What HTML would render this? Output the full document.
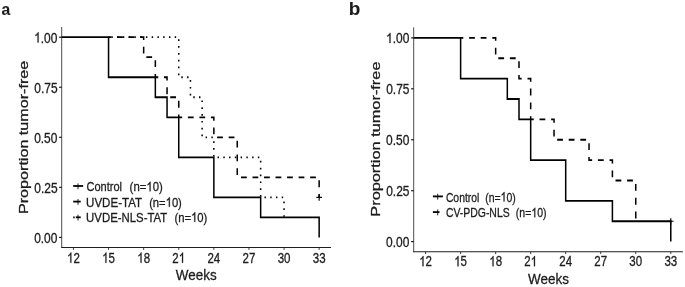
<!DOCTYPE html>
<html><head><meta charset="utf-8"><title>Survival curves</title><style>
html,body{margin:0;padding:0;background:#fff;}
body{width:685px;height:287px;overflow:hidden;font-family:"Liberation Sans",sans-serif;}
svg{display:block}
text{font-family:"Liberation Sans",sans-serif;stroke:#1c1c1c;stroke-width:0.3px;}
</style></head><body>
<div id="fig" style="will-change:transform;width:685px;height:287px;background:#fff">
<svg width="685" height="287" viewBox="0 0 685 287">
<rect width="685" height="287" fill="#fff"/>
<text style="stroke-width:0.1px" transform="translate(1.59,14.70) scale(0.9223,1)" font-size="17" font-weight="bold" text-anchor="start" fill="#1c1c1c">a</text>
<text style="stroke-width:0.1px" transform="translate(348.83,14.50) scale(1.0739,1)" font-size="17.6" font-weight="bold" text-anchor="start" fill="#1c1c1c">b</text>
<path d="M61.7,27.0 V248.0" stroke="#1e1e1e" stroke-width="0.8"/>
<path d="M61.300000000000004,247.5 H331" stroke="#1e1e1e" stroke-width="1.1"/>
<path d="M59.1,237.40 H61.7" stroke="#111" stroke-width="1.15"/>
<text transform="translate(34.14,242.70) scale(0.8430,1)" font-size="14.2" text-anchor="start" fill="#1c1c1c">0.00</text>
<path d="M59.1,187.35 H61.7" stroke="#111" stroke-width="1.15"/>
<text transform="translate(34.26,192.65) scale(0.8430,1)" font-size="14.2" text-anchor="start" fill="#1c1c1c">0.25</text>
<path d="M59.1,137.30 H61.7" stroke="#111" stroke-width="1.15"/>
<text transform="translate(34.14,142.60) scale(0.8430,1)" font-size="14.2" text-anchor="start" fill="#1c1c1c">0.50</text>
<path d="M59.1,87.25 H61.7" stroke="#111" stroke-width="1.15"/>
<text transform="translate(34.26,92.55) scale(0.8430,1)" font-size="14.2" text-anchor="start" fill="#1c1c1c">0.75</text>
<path d="M59.1,37.20 H61.7" stroke="#111" stroke-width="1.15"/>
<g transform="translate(34.14,42.50) scale(0.8430,1)"><path transform="translate(0.00,0) scale(0.006934,-0.006934)" d="M763 0L583 0L583 1147Q518 1085 412.5 1023Q307 961 223 930L223 1104Q374 1175 487 1276Q600 1377 647 1472L763 1472Z" fill="#1c1c1c" stroke="#1c1c1c" stroke-width="43.3"/><text x="7.90" y="0" font-size="14.2" fill="#1c1c1c">.00</text></g>
<path d="M73.45,247.5 v2.4" stroke="#1e1e1e" stroke-width="0.85"/>
<g transform="translate(73.45,262.80) scale(0.8100,1)"><path transform="translate(-7.90,0) scale(0.006934,-0.006934)" d="M763 0L583 0L583 1147Q518 1085 412.5 1023Q307 961 223 930L223 1104Q374 1175 487 1276Q600 1377 647 1472L763 1472Z" fill="#1c1c1c" stroke="#1c1c1c" stroke-width="43.3"/><text x="0.00" y="0" font-size="14.2" fill="#1c1c1c">2</text></g>
<path d="M108.55,247.5 v2.4" stroke="#1e1e1e" stroke-width="0.85"/>
<g transform="translate(108.55,262.80) scale(0.8100,1)"><path transform="translate(-7.90,0) scale(0.006934,-0.006934)" d="M763 0L583 0L583 1147Q518 1085 412.5 1023Q307 961 223 930L223 1104Q374 1175 487 1276Q600 1377 647 1472L763 1472Z" fill="#1c1c1c" stroke="#1c1c1c" stroke-width="43.3"/><text x="0.00" y="0" font-size="14.2" fill="#1c1c1c">5</text></g>
<path d="M143.65,247.5 v2.4" stroke="#1e1e1e" stroke-width="0.85"/>
<g transform="translate(143.65,262.80) scale(0.8100,1)"><path transform="translate(-7.90,0) scale(0.006934,-0.006934)" d="M763 0L583 0L583 1147Q518 1085 412.5 1023Q307 961 223 930L223 1104Q374 1175 487 1276Q600 1377 647 1472L763 1472Z" fill="#1c1c1c" stroke="#1c1c1c" stroke-width="43.3"/><text x="0.00" y="0" font-size="14.2" fill="#1c1c1c">8</text></g>
<path d="M178.75,247.5 v2.4" stroke="#1e1e1e" stroke-width="0.85"/>
<g transform="translate(178.75,262.80) scale(0.8100,1)"><text x="-7.90" y="0" font-size="14.2" fill="#1c1c1c">2</text><path transform="translate(0.00,0) scale(0.006934,-0.006934)" d="M763 0L583 0L583 1147Q518 1085 412.5 1023Q307 961 223 930L223 1104Q374 1175 487 1276Q600 1377 647 1472L763 1472Z" fill="#1c1c1c" stroke="#1c1c1c" stroke-width="43.3"/></g>
<path d="M213.85,247.5 v2.4" stroke="#1e1e1e" stroke-width="0.85"/>
<text transform="translate(213.85,262.80) scale(0.8100,1)" font-size="14.2" text-anchor="middle" fill="#1c1c1c">24</text>
<path d="M248.95,247.5 v2.4" stroke="#1e1e1e" stroke-width="0.85"/>
<text transform="translate(248.95,262.80) scale(0.8100,1)" font-size="14.2" text-anchor="middle" fill="#1c1c1c">27</text>
<path d="M284.05,247.5 v2.4" stroke="#1e1e1e" stroke-width="0.85"/>
<text transform="translate(284.05,262.80) scale(0.8100,1)" font-size="14.2" text-anchor="middle" fill="#1c1c1c">30</text>
<path d="M319.15,247.5 v2.4" stroke="#1e1e1e" stroke-width="0.85"/>
<text transform="translate(319.15,262.80) scale(0.8100,1)" font-size="14.2" text-anchor="middle" fill="#1c1c1c">33</text>
<text transform="translate(175.87,279.85) scale(0.8787,1)" font-size="15.3" text-anchor="start" fill="#1c1c1c">Weeks</text>
<text transform="translate(27.9,214.0) rotate(-90) scale(1.1868,1)" font-size="13.6" fill="#1c1c1c">Proportion tumor-free</text>
<path transform="scale(0.842,1)" d="M128.92,37.20 L170.61,37.20 L170.61,57.22 L184.50,57.22 L184.50,77.24 L198.40,77.24 L198.40,97.26 L212.29,97.26 L212.29,117.28 L253.98,117.28 L253.98,137.30 L281.77,137.30 L281.77,177.34 L379.04,177.34 L379.04,197.36" fill="none" stroke="#000" stroke-width="1.8" stroke-linejoin="miter" stroke-dasharray="6.84 6.84" stroke-dashoffset="3.504"/>
<path transform="scale(0.842,1)" d="M128.92,37.20 L212.29,37.20 L212.29,77.24 L226.19,77.24 L226.19,97.26 L240.08,97.26 L240.08,137.30 L253.98,137.30 L253.98,157.32 L309.56,157.32 L309.56,197.36 L337.35,197.36 L337.35,217.38" fill="none" stroke="#000" stroke-width="1.8" stroke-linejoin="miter" stroke-dasharray="1.71 5.13" stroke-dashoffset="3.504"/>
<path transform="scale(0.842,1)" d="M73.28,37.20 L128.92,37.20 L128.92,77.24 L184.50,77.24 L184.50,97.26 L198.40,97.26 L198.40,117.28 L212.29,117.28 L212.29,157.32 L253.98,157.32 L253.98,197.36 L309.56,197.36 L309.56,217.38 L379.04,217.38 L379.04,237.40" fill="none" stroke="#000" stroke-width="1.8" stroke-linejoin="miter"/>
<path d="M73.20,186.0 H83.10" stroke="#000" stroke-width="1.8"/>
<path d="M78.0,183.4 v5.8" stroke="#0a0a0a" stroke-width="0.9"/>
<text transform="translate(86.45,191.30) scale(0.8355,1)" font-size="13.2" text-anchor="start" fill="#1c1c1c">Control</text>
<g transform="translate(129.62,191.30) scale(0.8604,1)"><text x="0.00" y="0" font-size="13.2" fill="#1c1c1c">(n=</text><path transform="translate(19.45,0) scale(0.006445,-0.006445)" d="M763 0L583 0L583 1147Q518 1085 412.5 1023Q307 961 223 930L223 1104Q374 1175 487 1276Q600 1377 647 1472L763 1472Z" fill="#1c1c1c" stroke="#1c1c1c" stroke-width="46.5"/><text x="26.79" y="0" font-size="13.2" fill="#1c1c1c">0)</text></g>
<path d="M73.20,201.6 H80.70" stroke="#000" stroke-width="1.8"/>
<path d="M78.0,199.0 v5.8" stroke="#0a0a0a" stroke-width="0.9"/>
<text transform="translate(86.08,206.80) scale(0.8756,1)" font-size="13.2" text-anchor="start" fill="#1c1c1c">UVDE-TAT</text>
<g transform="translate(149.13,206.80) scale(0.8496,1)"><text x="0.00" y="0" font-size="13.2" fill="#1c1c1c">(n=</text><path transform="translate(19.45,0) scale(0.006445,-0.006445)" d="M763 0L583 0L583 1147Q518 1085 412.5 1023Q307 961 223 930L223 1104Q374 1175 487 1276Q600 1377 647 1472L763 1472Z" fill="#1c1c1c" stroke="#1c1c1c" stroke-width="46.5"/><text x="26.79" y="0" font-size="13.2" fill="#1c1c1c">0)</text></g>
<path d="M73.20,217.3 H74.70" stroke="#000" stroke-width="1.8"/>
<path d="M75.80,217.3 H80.70" stroke="#000" stroke-width="1.8"/>
<path d="M78.0,214.70000000000002 v5.8" stroke="#0a0a0a" stroke-width="0.9"/>
<text transform="translate(86.09,221.80) scale(0.8632,1)" font-size="13.2" text-anchor="start" fill="#1c1c1c">UVDE-NLS-TAT</text>
<g transform="translate(174.42,221.80) scale(0.8550,1)"><text x="0.00" y="0" font-size="13.2" fill="#1c1c1c">(n=</text><path transform="translate(19.45,0) scale(0.006445,-0.006445)" d="M763 0L583 0L583 1147Q518 1085 412.5 1023Q307 961 223 930L223 1104Q374 1175 487 1276Q600 1377 647 1472L763 1472Z" fill="#1c1c1c" stroke="#1c1c1c" stroke-width="46.5"/><text x="26.79" y="0" font-size="13.2" fill="#1c1c1c">0)</text></g>
<path d="M316.35,197.36 h5.6 M319.15,194.46 v6.2" stroke="#000" stroke-width="1.15" fill="none"/>
<path d="M413.7,27.4 V252.2" stroke="#1e1e1e" stroke-width="0.8"/>
<path d="M413.3,251.7 H682.9" stroke="#1e1e1e" stroke-width="1.1"/>
<path d="M411.09999999999997,241.60 H413.7" stroke="#111" stroke-width="1.15"/>
<text transform="translate(386.04,246.80) scale(0.8430,1)" font-size="14.2" text-anchor="start" fill="#1c1c1c">0.00</text>
<path d="M411.09999999999997,190.68 H413.7" stroke="#111" stroke-width="1.15"/>
<text transform="translate(386.16,195.88) scale(0.8430,1)" font-size="14.2" text-anchor="start" fill="#1c1c1c">0.25</text>
<path d="M411.09999999999997,139.75 H413.7" stroke="#111" stroke-width="1.15"/>
<text transform="translate(386.04,144.95) scale(0.8430,1)" font-size="14.2" text-anchor="start" fill="#1c1c1c">0.50</text>
<path d="M411.09999999999997,88.83 H413.7" stroke="#111" stroke-width="1.15"/>
<text transform="translate(386.16,94.03) scale(0.8430,1)" font-size="14.2" text-anchor="start" fill="#1c1c1c">0.75</text>
<path d="M411.09999999999997,37.90 H413.7" stroke="#111" stroke-width="1.15"/>
<g transform="translate(386.04,43.10) scale(0.8430,1)"><path transform="translate(0.00,0) scale(0.006934,-0.006934)" d="M763 0L583 0L583 1147Q518 1085 412.5 1023Q307 961 223 930L223 1104Q374 1175 487 1276Q600 1377 647 1472L763 1472Z" fill="#1c1c1c" stroke="#1c1c1c" stroke-width="43.3"/><text x="7.90" y="0" font-size="14.2" fill="#1c1c1c">.00</text></g>
<path d="M425.60,251.7 v2.4" stroke="#1e1e1e" stroke-width="0.85"/>
<g transform="translate(425.60,266.30) scale(0.8100,1)"><path transform="translate(-7.90,0) scale(0.006934,-0.006934)" d="M763 0L583 0L583 1147Q518 1085 412.5 1023Q307 961 223 930L223 1104Q374 1175 487 1276Q600 1377 647 1472L763 1472Z" fill="#1c1c1c" stroke="#1c1c1c" stroke-width="43.3"/><text x="0.00" y="0" font-size="14.2" fill="#1c1c1c">2</text></g>
<path d="M460.62,251.7 v2.4" stroke="#1e1e1e" stroke-width="0.85"/>
<g transform="translate(460.62,266.30) scale(0.8100,1)"><path transform="translate(-7.90,0) scale(0.006934,-0.006934)" d="M763 0L583 0L583 1147Q518 1085 412.5 1023Q307 961 223 930L223 1104Q374 1175 487 1276Q600 1377 647 1472L763 1472Z" fill="#1c1c1c" stroke="#1c1c1c" stroke-width="43.3"/><text x="0.00" y="0" font-size="14.2" fill="#1c1c1c">5</text></g>
<path d="M495.65,251.7 v2.4" stroke="#1e1e1e" stroke-width="0.85"/>
<g transform="translate(495.65,266.30) scale(0.8100,1)"><path transform="translate(-7.90,0) scale(0.006934,-0.006934)" d="M763 0L583 0L583 1147Q518 1085 412.5 1023Q307 961 223 930L223 1104Q374 1175 487 1276Q600 1377 647 1472L763 1472Z" fill="#1c1c1c" stroke="#1c1c1c" stroke-width="43.3"/><text x="0.00" y="0" font-size="14.2" fill="#1c1c1c">8</text></g>
<path d="M530.68,251.7 v2.4" stroke="#1e1e1e" stroke-width="0.85"/>
<g transform="translate(530.68,266.30) scale(0.8100,1)"><text x="-7.90" y="0" font-size="14.2" fill="#1c1c1c">2</text><path transform="translate(0.00,0) scale(0.006934,-0.006934)" d="M763 0L583 0L583 1147Q518 1085 412.5 1023Q307 961 223 930L223 1104Q374 1175 487 1276Q600 1377 647 1472L763 1472Z" fill="#1c1c1c" stroke="#1c1c1c" stroke-width="43.3"/></g>
<path d="M565.70,251.7 v2.4" stroke="#1e1e1e" stroke-width="0.85"/>
<text transform="translate(565.70,266.30) scale(0.8100,1)" font-size="14.2" text-anchor="middle" fill="#1c1c1c">24</text>
<path d="M600.73,251.7 v2.4" stroke="#1e1e1e" stroke-width="0.85"/>
<text transform="translate(600.73,266.30) scale(0.8100,1)" font-size="14.2" text-anchor="middle" fill="#1c1c1c">27</text>
<path d="M635.75,251.7 v2.4" stroke="#1e1e1e" stroke-width="0.85"/>
<text transform="translate(635.75,266.30) scale(0.8100,1)" font-size="14.2" text-anchor="middle" fill="#1c1c1c">30</text>
<path d="M670.78,251.7 v2.4" stroke="#1e1e1e" stroke-width="0.85"/>
<text transform="translate(670.78,266.30) scale(0.8100,1)" font-size="14.2" text-anchor="middle" fill="#1c1c1c">33</text>
<text transform="translate(528.07,284.05) scale(0.8809,1)" font-size="15.3" text-anchor="start" fill="#1c1c1c">Weeks</text>
<text transform="translate(380.0,216.7) rotate(-90) scale(1.2022,1)" font-size="13.6" fill="#1c1c1c">Proportion tumor-free</text>
<path transform="scale(0.842,1)" d="M547.06,37.90 L588.66,37.90 L588.66,58.27 L616.39,58.27 L616.39,78.64 L630.26,78.64 L630.26,119.38 L657.99,119.38 L657.99,139.75 L699.58,139.75 L699.58,160.12 L727.32,160.12 L727.32,180.49 L755.05,180.49 L755.05,221.23" fill="none" stroke="#000" stroke-width="1.8" stroke-linejoin="miter" stroke-dasharray="6.88 6.88" stroke-dashoffset="3.683"/>
<path transform="scale(0.842,1)" d="M491.33,37.90 L547.06,37.90 L547.06,78.64 L602.52,78.64 L602.52,99.01 L616.39,99.01 L616.39,119.38 L630.26,119.38 L630.26,160.12 L671.85,160.12 L671.85,200.86 L727.32,200.86 L727.32,221.23 L796.64,221.23 L796.64,241.60" fill="none" stroke="#000" stroke-width="1.8" stroke-linejoin="miter"/>
<path d="M432.90,196.4 H442.90" stroke="#000" stroke-width="1.8"/>
<path d="M437.7,193.8 v5.8" stroke="#0a0a0a" stroke-width="0.9"/>
<text transform="translate(445.88,201.50) scale(0.7868,1)" font-size="13.2" text-anchor="start" fill="#1c1c1c">Control</text>
<g transform="translate(485.17,201.50) scale(0.7927,1)"><text x="0.00" y="0" font-size="13.2" fill="#1c1c1c">(n=</text><path transform="translate(19.45,0) scale(0.006445,-0.006445)" d="M763 0L583 0L583 1147Q518 1085 412.5 1023Q307 961 223 930L223 1104Q374 1175 487 1276Q600 1377 647 1472L763 1472Z" fill="#1c1c1c" stroke="#1c1c1c" stroke-width="46.5"/><text x="26.79" y="0" font-size="13.2" fill="#1c1c1c">0)</text></g>
<path d="M432.90,212.1 H439.50" stroke="#000" stroke-width="1.8"/>
<path d="M437.7,209.5 v5.8" stroke="#0a0a0a" stroke-width="0.9"/>
<text transform="translate(445.88,217.25) scale(0.7916,1)" font-size="13.2" text-anchor="start" fill="#1c1c1c">CV-PDG-NLS</text>
<g transform="translate(515.87,217.25) scale(0.7955,1)"><text x="0.00" y="0" font-size="13.2" fill="#1c1c1c">(n=</text><path transform="translate(19.45,0) scale(0.006445,-0.006445)" d="M763 0L583 0L583 1147Q518 1085 412.5 1023Q307 961 223 930L223 1104Q374 1175 487 1276Q600 1377 647 1472L763 1472Z" fill="#1c1c1c" stroke="#1c1c1c" stroke-width="46.5"/><text x="26.79" y="0" font-size="13.2" fill="#1c1c1c">0)</text></g>
<path d="M667.98,221.23 h5.6 M670.78,218.33 v6.2" stroke="#000" stroke-width="1.15" fill="none"/>
</svg>
</div></body></html>
